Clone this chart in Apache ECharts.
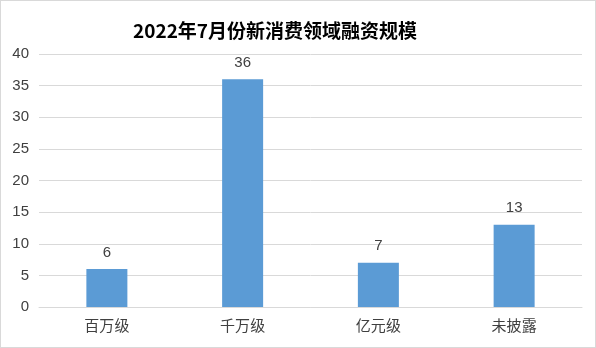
<!DOCTYPE html>
<html><head><meta charset="utf-8">
<script src="https://cdn.jsdelivr.net/npm/echarts@6/dist/echarts.min.js"></script>
<style>
html,body{margin:0;padding:0;background:#fff;}
#c{width:594px;height:346px;border:1px solid #d9d9d9;}
</style></head>
<body><div id="c"></div>
<script>
const titleText = '2022年7月份新消费领域融资规模';
const categories = ['百万级','千万级','亿元级','未披露'];
const values = [6, 36, 7, 13];
const yTicks = {min:0, max:40, interval:5};

const chart = echarts.init(document.getElementById('c'));
chart.setOption({
  animation:false,
  title:{text:titleText, left:127, top:15,
    textStyle:{fontFamily:'Noto Sans CJK SC', fontSize:19, fontWeight:'bold', color:'#000'}},
  grid:{left:38, right:13, top:53, bottom:40},
  xAxis:{type:'category', data:categories,
    axisLine:{lineStyle:{color:'#d9d9d9'}}, axisTick:{show:false},
    axisLabel:{fontFamily:'Noto Sans CJK SC', fontSize:15, color:'#404040', margin:11}},
  yAxis:{type:'value', min:yTicks.min, max:yTicks.max, interval:yTicks.interval,
    axisLine:{show:false}, axisTick:{show:false},
    splitLine:{lineStyle:{color:'#d9d9d9'}},
    axisLabel:{fontFamily:'Liberation Sans', fontSize:15, color:'#404040', margin:10}},
  series:[{type:'bar', data:values, barWidth:41,
    itemStyle:{color:'#5b9bd5'},
    label:{show:true, position:'top', distance:9, fontFamily:'Liberation Sans', fontSize:15, color:'#404040'}}]
});
</script></body></html>
